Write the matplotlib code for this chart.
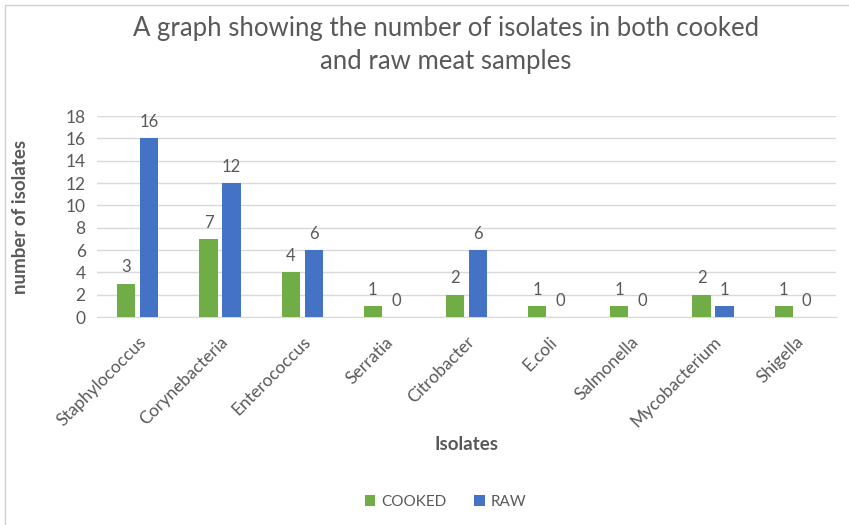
import matplotlib
matplotlib.use("Agg")
import matplotlib.pyplot as plt
import numpy as np
from matplotlib.patches import Rectangle

categories = ["Staphylococcus", "Corynebacteria", "Enterococcus", "Serratia",
              "Citrobacter", "E.coli", "Salmonella", "Mycobacterium", "Shigella"]
cooked = [3, 7, 4, 1, 2, 1, 1, 2, 1]
raw = [16, 12, 6, 0, 6, 0, 0, 1, 0]
yticks = [0, 2, 4, 6, 8, 10, 12, 14, 16, 18]

plt.rcParams['font.family'] = ['Lato', 'DejaVu Sans']
txt = '#595959'

fig = plt.figure(figsize=(8.49, 5.25), dpi=100)
ax = fig.add_axes([0.114, 0.396, 0.871, 0.383])

x = np.arange(len(categories))
w = 0.22
off = 0.14
b1 = ax.bar(x - off, cooked, w, color='#70AD47', label='COOKED', zorder=3)
b2 = ax.bar(x + off, raw, w, color='#4472C4', label='RAW', zorder=3)
for bars in (b1, b2):
    for r in bars:
        ax.text(r.get_x() + r.get_width() / 2, r.get_height() + 0.75, f"{int(r.get_height())}",
                ha='center', va='bottom', fontsize=12, color=txt)

ax.set_xlim(-0.5, len(categories) - 0.5)
ax.set_ylim(0, 18)
ax.set_yticks(yticks)
ax.yaxis.grid(True, color='#D9D9D9', linewidth=1, zorder=0)
for s in ['top', 'right', 'left']:
    ax.spines[s].set_visible(False)
ax.spines['bottom'].set_color('#D9D9D9')
ax.tick_params(axis='both', length=0, colors=txt, labelsize=12.5)
ax.tick_params(axis='x', pad=12)
ax.tick_params(axis='y', pad=8)
ax.set_xticks(x)
ax.set_xticklabels(categories, rotation=45, ha='right', rotation_mode='anchor', color=txt)
ax.set_ylabel('number of isolates', fontsize=13.5, fontweight='bold', color=txt, labelpad=26)
ax.set_xlabel('Isolates', fontsize=13.5, fontweight='bold', color=txt, labelpad=4)

fig.text(0.525, 0.945, 'A graph showing the number of isolates in both cooked',
         ha='center', va='center', fontsize=18.5, color=txt)
fig.text(0.525, 0.882, 'and raw meat samples', ha='center', va='center', fontsize=18.5, color=txt)

fig.legend(loc='center', bbox_to_anchor=(0.525, 0.044), ncol=2, frameon=False,
           fontsize=11, handlelength=0.7, handleheight=0.7, columnspacing=1.8,
           handletextpad=0.4, labelcolor=txt)

fig.patches.append(Rectangle((0.006, -0.01), 1.2, 1.0, transform=fig.transFigure,
                             fill=False, edgecolor='#D0D0D0', linewidth=1))

fig.savefig('out.png', dpi=100)
